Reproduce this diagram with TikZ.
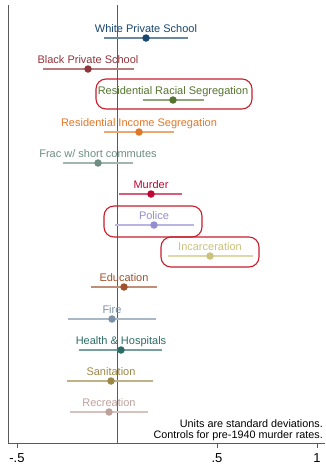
\documentclass[tikz,border=0pt]{standalone}
\usepackage{fontspec}
\setmainfont{Liberation Sans}
\definecolor{cnavy}{RGB}{26,71,111}
\definecolor{cmaroon}{RGB}{144,53,59}
\definecolor{cforest}{RGB}{85,117,47}
\definecolor{cdkorange}{RGB}{227,119,40}
\definecolor{cteal}{RGB}{110,142,132}
\definecolor{ccranberry}{RGB}{193,5,52}
\definecolor{clavender}{RGB}{147,141,210}
\definecolor{ckhaki}{RGB}{202,194,126}
\definecolor{csienna}{RGB}{160,82,45}
\definecolor{cemidblue}{RGB}{123,146,168}
\definecolor{cemerald}{RGB}{45,109,102}
\definecolor{cbrown}{RGB}{156,136,71}
\definecolor{cerose}{RGB}{191,161,156}
\definecolor{boxred}{RGB}{200,30,45}
\definecolor{axisgray}{RGB}{90,90,90}
\tikzset{
  lbl/.style={font=\fontsize{11}{12}\selectfont, anchor=base, inner sep=0pt},
  dotc/.style={circle, fill=#1, inner sep=0pt, minimum size=7.5pt},
  ci/.style={draw=#1!65!white, line width=1.1pt},
  hbox/.style={draw=boxred, line width=1.1pt, rounded corners=10pt},
  ticklbl/.style={font=\fontsize{13}{14}\selectfont, anchor=base, inner sep=0pt},
  note/.style={font=\fontsize{10.8}{12}\selectfont, anchor=base east, inner sep=0pt}
}
\newcommand{\ciRow}[6]{%
  % #1 name, #2 color, #3 y, #4 lo, #5 est, #6 hi ; label text given separately
  \coordinate (#1lo) at (#4,#3);
  \coordinate (#1hi) at (#6,#3);
  \draw[ci=#2] (#1lo) -- (#1hi);
  \node[dotc=#2] (#1dot) at (#5,#3) {};
}
\begin{document}
\begin{tikzpicture}[x=1pt,y=-1pt]
\useasboundingbox (0,0) rectangle (325,464);
\fill[white] (0,0) rectangle (325,464);
% axes
\coordinate (axtop) at (8,5);
\coordinate (axcorner) at (8,443);
\coordinate (axright) at (325,443);
\coordinate (zerotop) at (117,5);
\coordinate (zerobot) at (117,443);
\draw[axisgray, line width=0.9pt] (zerotop) -- (zerobot);
% rows
\ciRow{a}{cnavy}{38}{104}{146}{188}
\node[lbl, text=cnavy] (alab) at (146,32.5) {White Private School};
\ciRow{b}{cmaroon}{69}{43}{88}{134}
\node[lbl, text=cmaroon] (blab) at (88,63.5) {Black Private School};
\ciRow{c}{cforest}{100}{143}{173}{204}
\node[lbl, text=cforest] (clab) at (173,94.5) {Residential Racial Segregation};
\ciRow{d}{cdkorange}{132}{104}{139}{174}
\node[lbl, text=cdkorange] (dlab) at (139,126.5) {Residential Income Segregation};
\ciRow{e}{cteal}{163}{63}{98}{133}
\node[lbl, text=cteal] (elab) at (98,157.5) {Frac w/ short commutes};
\ciRow{f}{ccranberry}{194}{119}{151}{182}
\node[lbl, text=ccranberry] (flab) at (151,188.5) {Murder};
\ciRow{g}{clavender}{225}{115}{154}{194}
\node[lbl, text=clavender] (glab) at (154,219.5) {Police};
\ciRow{h}{ckhaki}{256}{168}{210}{253}
\node[lbl, text=ckhaki] (hlab) at (210,250.5) {Incarceration};
\ciRow{i}{csienna}{287}{91}{124}{157}
\node[lbl, text=csienna] (ilab) at (124,281.5) {Education};
\ciRow{j}{cemidblue}{319}{68}{112}{156}
\node[lbl, text=cemidblue] (jlab) at (112,313.5) {Fire};
\ciRow{k}{cemerald}{350}{79}{121}{162}
\node[lbl, text=cemerald] (klab) at (121,344.5) {Health \& Hospitals};
\ciRow{l}{cbrown}{381}{67}{111}{153}
\node[lbl, text=cbrown] (llab) at (111,375.5) {Sanitation};
\ciRow{m}{cerose}{412}{70}{109}{148}
\node[lbl, text=cerose] (mlab) at (109,406.5) {Recreation};
% highlight boxes
\draw[hbox] (96,79) rectangle (252,109);
\draw[hbox] (104,206) rectangle (202,237);
\draw[hbox] (161,237) rectangle (259,267);
% notes
\node[note] (n1) at (323,427.5) {Units are standard deviations.};
\node[note] (n2) at (323,438.5) {Controls for pre-1940 murder rates.};
% axis frame
\draw[axisgray, line width=0.9pt] (axtop) -- (axcorner) -- (axright);
% ticks
\foreach \x/\t in {17/-.5, 217/.5, 317/1} {
  \draw[axisgray, line width=0.8pt] (\x,443) -- (\x,448);
  \node[ticklbl] at (\x,462) {\t};
}
\end{tikzpicture}
\end{document}
